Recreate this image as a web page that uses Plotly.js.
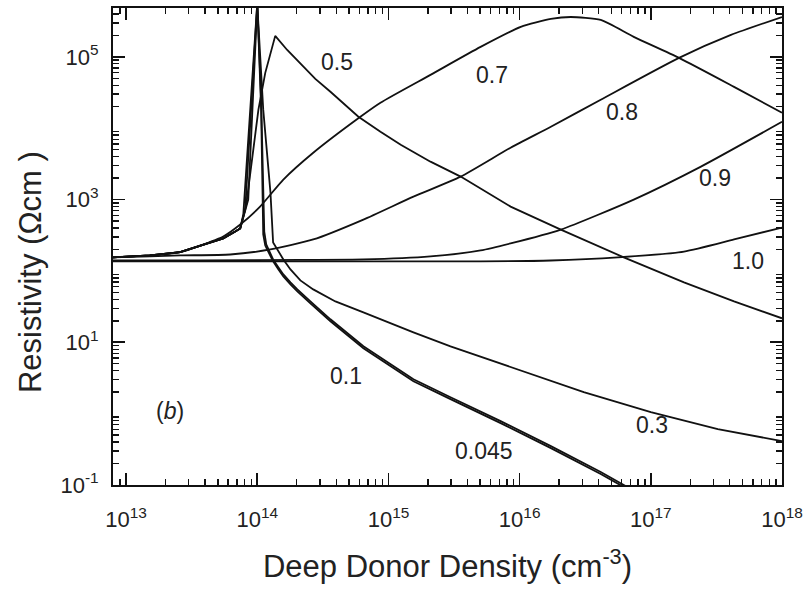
<!DOCTYPE html>
<html><head><meta charset="utf-8">
<script src="https://cdn.plot.ly/plotly-3.0.1.min.js"></script>
<style>html,body{margin:0;padding:0;background:#fff}#chart{width:809px;height:589px}</style>
</head><body><div id="chart"></div>
<script>
// Deep donor density (cm^-3) and resistivity (ohm cm) for each fraction curve
const seriesNames = ["0.045", "0.1", "0.3", "0.5", "0.7", "0.8", "0.9", "1.0"];

const x_0045 = [7.9e12, 1.52e13, 2.58e13, 3.67e13, 5.50e13, 6.79e13, 7.41e13, 7.82e13, 1.00e14, 1.07e14, 1.09e14, 1.11e14, 1.15e14, 1.24e14, 1.32e14, 1.45e14, 1.58e14, 1.79e14, 2.02e14, 2.54e14, 3.61e14, 6.44e14, 1.55e15, 2.97e15, 7.16e15, 1.73e16, 4.15e16, 7.03e16];
const y_0045 = [155, 165, 184, 227, 285, 356, 393, 617, 5.69e5, 1.82e4, 1.00e3, 324, 227, 170, 136, 105, 83.8, 64.7, 51.6, 35.1, 19.7, 8.24, 2.85, 1.60, 0.736, 0.329, 0.143, 0.0824];

const x_01 = [7.9e12, 1.52e13, 2.58e13, 3.67e13, 5.50e13, 6.79e13, 7.41e13, 8.09e13, 1.00e14, 1.07e14, 1.11e14, 1.13e14, 1.17e14, 1.24e14, 1.32e14, 1.45e14, 1.58e14, 1.79e14, 2.02e14, 2.54e14, 3.61e14, 6.44e14, 1.55e15, 2.97e15, 7.16e15, 1.73e16, 4.15e16, 7.03e16];
const y_01 = [155, 165, 184, 227, 285, 356, 393, 724, 5.69e5, 2.51e4, 1.00e3, 356, 235, 182, 145, 112, 89.3, 69.0, 55.1, 37.4, 21.0, 8.79, 3.04, 1.70, 0.785, 0.351, 0.152, 0.088];

const x_03 = [7.9e12, 1.52e13, 2.58e13, 3.67e13, 5.50e13, 6.79e13, 7.41e13, 8.53e13, 1.00e14, 1.11e14, 1.21e14, 1.26e14, 1.32e14, 1.45e14, 1.58e14, 1.79e14, 2.13e14, 2.67e14, 3.94e14, 6.44e14, 1.55e15, 2.97e15, 9.66e15, 3.08e16, 1.00e17, 3.24e17, 1e18];
const y_03 = [155, 165, 184, 227, 285, 356, 393, 1.00e3, 5.33e5, 1.82e4, 2.63e3, 1.25e3, 251, 187, 145, 105, 73.6, 55.1, 37.4, 26.3, 13.8, 8.79, 4.19, 2.00, 1.05, 0.607, 0.412];

const x_05 = [7.9e12, 1.52e13, 2.58e13, 3.67e13, 5.50e13, 6.79e13, 7.41e13, 8.24e13, 9.16e13, 1.02e14, 1.15e14, 1.37e14, 1.69e14, 2.13e14, 2.77e14, 3.61e14, 5.90e14, 8.69e14, 1.24e15, 2.09e15, 3.55e15, 8.53e15, 2.06e16, 6.22e16, 1.79e17, 4.31e17, 1e18];
const y_05 = [155, 165, 184, 227, 285, 356, 393, 851, 3.62e3, 1.82e4, 5.97e4, 1.97e5, 1.25e5, 7.98e4, 4.92e4, 3.24e4, 1.45e4, 8.93e3, 5.87e3, 3.40e3, 2.10e3, 798, 380, 155, 69.0, 37.4, 21.7];

const x_07 = [7.9e12, 1.52e13, 2.58e13, 3.67e13, 5.50e13, 7.41e13, 1.05e14, 1.58e14, 2.67e14, 6.11e14, 8.69e14, 2.09e15, 5.04e15, 1.02e16, 1.73e16, 2.45e16, 4.15e16, 7.41e16, 1.64e17, 4.31e17, 1e18];
const y_07 = [155, 165, 184, 227, 304, 447, 798, 1.91e3, 4.54e3, 1.45e4, 2.28e4, 5.60e4, 1.38e5, 2.63e5, 3.40e5, 3.62e5, 3.29e5, 1.91e5, 9.68e4, 3.80e4, 1.65e4];

const x_08 = [7.9e12, 1.52e13, 2.58e13, 6.22e13, 1.26e14, 2.67e14, 6.44e14, 1.55e15, 3.55e15, 8.53e15, 1.73e16, 4.15e16, 1.64e17, 4.08e17, 1e18];
const y_08 = [155, 160, 165, 170, 200, 276, 525, 1.10e3, 2.10e3, 5.33e3, 1.05e4, 2.51e4, 9.68e4, 2.03e5, 3.62e5];

const x_09 = [7.9e12, 3.67e13, 2.13e14, 6.44e14, 2.09e15, 5.04e15, 8.53e15, 2.06e16, 7.41e16, 2.41e17, 1e18];
const y_09 = [140, 140, 143, 145, 160, 194, 243, 380, 1.00e3, 2.90e3, 1.23e4];

const x_10 = [7.9e12, 2.13e14, 5.04e15, 1.73e16, 5.60e16, 1.79e17, 4.31e17, 1e18];
const y_10 = [136, 136, 136, 140, 155, 187, 276, 406];

// axis ticks
const xTickVals = [1e13, 1e14, 1e15, 1e16, 1e17, 1e18];
const xTickText = ["10<sup>13</sup>", "10<sup>14</sup>", "10<sup>15</sup>", "10<sup>16</sup>", "10<sup>17</sup>", "10<sup>18</sup>"];
const yTickVals = [0.1, 10, 1e3, 1e5];
const yTickText = ["10<sup>-1</sup>", "10<sup>1</sup>", "10<sup>3</sup>", "10<sup>5</sup>"];
const yUnlabeledDecades = [1, 100, 1e4];
const mantissas = [2, 3, 4, 5, 6, 7, 8, 9];

// curve labels (log10 positions)
const labelText = ["0.5", "0.7", "0.8", "0.9", "1.0", "0.1", "0.3", "0.045"];
const labelLogX = [14.611, 15.786, 16.779, 17.489, 17.740, 14.679, 17.008, 15.725];
const labelLogY = [4.930, 4.748, 4.231, 3.308, 2.133, 0.524, -0.161, -0.524];

const xs = [x_0045, x_01, x_03, x_05, x_07, x_08, x_09, x_10];
const ys = [y_0045, y_01, y_03, y_05, y_07, y_08, y_09, y_10];
const smooth = [false, false, false, false, true, true, true, true];

const traces = seriesNames.map((n, i) => ({
  x: xs[i], y: ys[i], name: n, type: "scatter", mode: "lines",
  line: {color: "#111", width: 1.8, shape: smooth[i] ? "spline" : "linear", smoothing: 0.6},
  hoverinfo: "x+y+name"
}));

function minorVals(lo, hi) {
  const out = [];
  for (let e = lo; e <= hi; e++) for (const m of mantissas) out.push(m * Math.pow(10, e));
  return out;
}

const font = "Liberation Sans, Arial, Helvetica, sans-serif";
const ann = labelText.map((t, i) => ({
  x: labelLogX[i], y: labelLogY[i], xref: "x", yref: "y", text: t, showarrow: false,
  font: {family: font, size: 23, color: "#222"}
}));
ann.push({x: 13.336, y: 0.035, xref: "x", yref: "y", text: "(<i>b</i>)", showarrow: false,
  font: {family: font, size: 23, color: "#222"}});
ann.push({x: -0.124, y: 0.4465, xref: "paper", yref: "paper", xanchor: "center", yanchor: "middle",
  text: "Resistivity (Ωcm )", textangle: -90, showarrow: false,
  font: {family: font, size: 31, color: "#222"}});

const axisCommon = {
  type: "log", tickmode: "array",
  ticks: "inside", ticklen: 12, tickwidth: 1.6, tickcolor: "#111",
  showline: true, linecolor: "#111", linewidth: 2, mirror: "ticks",
  showgrid: false, zeroline: false
};

const layout = {
  width: 809, height: 589,
  margin: {l: 113, r: 27, t: 8, b: 104},
  paper_bgcolor: "#fff", plot_bgcolor: "#fff",
  showlegend: false,
  font: {family: font, color: "#222"},
  xaxis: Object.assign({}, axisCommon, {
    range: [12.9, 18], tickvals: xTickVals, ticktext: xTickText,
    minor: {tickmode: "array", tickvals: minorVals(12, 17), ticks: "inside", ticklen: 6, tickwidth: 1.4, tickcolor: "#111", showgrid: false},
    tickfont: {family: font, size: 22, color: "#222"},
    ticklabelstandoff: 14,
    title: {text: "Deep Donor Density (cm<sup>-3</sup>)", font: {family: font, size: 31, color: "#222"}, standoff: 24}
  }),
  yaxis: Object.assign({}, axisCommon, {
    range: [-1, 5.685], tickvals: yTickVals, ticktext: yTickText,
    minor: {tickmode: "array", tickvals: minorVals(-1, 5), ticks: "inside", ticklen: 6, tickwidth: 1.4, tickcolor: "#111", showgrid: false},
    tickfont: {family: font, size: 22, color: "#222"},
    ticklabelstandoff: 8
  }),
  yaxis2: Object.assign({}, axisCommon, {
    range: [-1, 5.685], tickvals: yUnlabeledDecades, overlaying: "y", side: "left",
    showticklabels: false
  }),
  annotations: ann
};

Plotly.newPlot("chart", traces, layout, {displayModeBar: false, staticPlot: true});
</script></body></html>
